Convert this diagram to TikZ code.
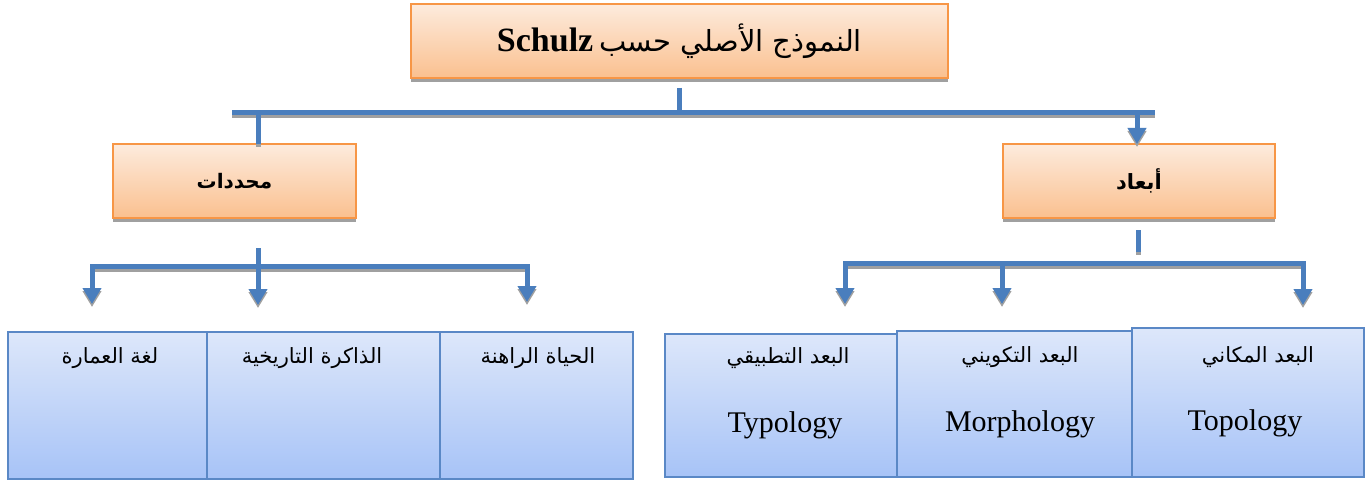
\documentclass[tikz,border=0pt]{standalone}
\usepackage{fontspec}
\setmainfont{Liberation Serif}
\newfontfamily\arabicfont[Script=Arabic]{DejaVu Sans}
\TeXXeTstate=1
\usetikzlibrary{arrows.meta,shadows}
\definecolor{orBorder}{HTML}{F79646}
\definecolor{orTop}{HTML}{FDEBDD}
\definecolor{orBot}{HTML}{FAC08F}
\definecolor{blBorder}{HTML}{5A88C6}
\definecolor{blTop}{HTML}{DDE7FA}
\definecolor{blBot}{HTML}{A7C3F7}
\definecolor{conn}{HTML}{4A7EBD}
\definecolor{shad}{HTML}{A0A0A0}
\tikzset{
  obox/.style={draw=orBorder, line width=1.5pt, top color=orTop, bottom color=orBot,
    minimum height=74pt, inner sep=0pt, outer sep=0pt,
    drop shadow={shadow xshift=0pt, shadow yshift=-4pt, fill=shad, opacity=1}},
  bbox/.style={draw=blBorder, line width=1.5pt, top color=blTop, bottom color=blBot,
    inner sep=0pt, outer sep=0pt},
  cline/.style={draw=conn, line width=5pt,
    preaction={draw=shad, line width=5pt, transform canvas={yshift=-3pt}}},
  tipd/.style={-{Triangle[width=18pt,length=16pt]}},
  artxt/.style={font=\arabicfont\fontsize{21}{25}\selectfont, inner sep=0pt},
  entxt/.style={font=\fontsize{30}{34}\selectfont, inner sep=0pt},
}
\begin{document}
\begin{tikzpicture}[x=1pt,y=-1pt]
\useasboundingbox[fill=white] (0,0) rectangle (1365,481);
% top box
\node[obox, minimum width=537pt] (top) at (679.5,41)
  {{\fontsize{34}{38}\selectfont\bfseries Schulz}\hspace{6pt}{\arabicfont\fontsize{29}{34}\selectfont\beginR النموذج الأصلي حسب\endR}};
% second level
\node[obox, minimum width=243pt] (mh) at (234.5,181)
  {\arabicfont\bfseries\fontsize{20}{24}\selectfont\beginR محددات\endR};
\node[obox, minimum width=272pt] (ab) at (1139,181)
  {\arabicfont\bfseries\fontsize{21}{25}\selectfont\beginR أبعاد\endR};
% bottom boxes
\node[bbox, minimum width=199pt, minimum height=147pt] (b1) at (107.5,405.5) {};
\node[bbox, minimum width=233pt, minimum height=147pt] (b2) at (323.5,405.5) {};
\node[bbox, minimum width=193pt, minimum height=147pt] (b3) at (536.5,405.5) {};
\node[bbox, minimum width=232pt, minimum height=143pt] (b4) at (781,405.5) {};
\node[bbox, minimum width=235pt, minimum height=146pt] (b5) at (1014.5,404) {};
\node[bbox, minimum width=232pt, minimum height=149pt] (b6) at (1248,402.5) {};
% texts
\node[artxt] (t1) at (110,358) {\beginR لغة العمارة\endR};
\node[artxt] (t2) at (312,358) {\beginR الذاكرة التاريخية\endR};
\node[artxt] (t3) at (538,358) {\beginR الحياة الراهنة\endR};
\node[artxt] (t4) at (788,358) {\beginR البعد التطبيقي\endR};
\node[artxt] (t5) at (1020,357) {\beginR البعد التكويني\endR};
\node[artxt] (t6) at (1258,357) {\beginR البعد المكاني\endR};
\node[entxt] (e4) at (785,425) {Typology};
\node[entxt] (e5) at (1020,424) {Morphology};
\node[entxt] (e6) at (1245,423) {Topology};
% top connectors
\coordinate (t0) at (679,88);
\coordinate (tj) at (679,113);
\coordinate (hl) at (232,113);
\coordinate (hr) at (1155,113);
\coordinate (dl) at (258,113);
\coordinate (dr) at (1137,113);
\draw[cline] (t0) -- (tj);
\draw[cline] (hl) -- (hr);
\draw[cline] (dl) -- (dl |- mh.north);
\draw[cline,tipd] (dr) -- (dr |- ab.north);
% left lower connectors
\coordinate (l0) at (258,248);
\coordinate (lt) at (258,305);
\coordinate (lh1) at (92,266);
\coordinate (lh2) at (529,266);
\coordinate (la1) at (92,304);
\coordinate (la3) at (527,302);
\draw[cline] (lh1) -- (lh2);
\draw[cline,tipd] (92,264) -- (la1);
\draw[cline,tipd] (527,264) -- (la3);
\draw[cline,tipd] (l0) -- (lt);
% right lower connectors
\coordinate (r0) at (1138,230);
\coordinate (r1) at (1138,252);
\coordinate (rh1) at (845,263);
\coordinate (rh2) at (1306,263);
\coordinate (ra1) at (845,304);
\coordinate (ra2) at (1002,304);
\coordinate (ra3) at (1303,305);
\draw[cline] (r0) -- (r1);
\draw[cline] (rh1) -- (rh2);
\draw[cline,tipd] (845,261) -- (ra1);
\draw[cline,tipd] (1002,263) -- (ra2);
\draw[cline,tipd] (1303,263) -- (ra3);
\end{tikzpicture}
\end{document}
